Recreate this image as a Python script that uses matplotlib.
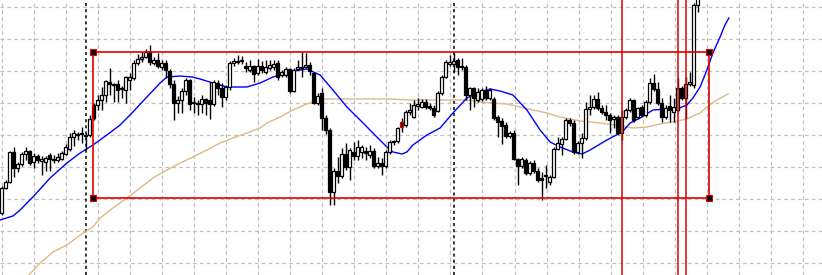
import numpy as np
import matplotlib
matplotlib.use("Agg")
import matplotlib.pyplot as plt

# OHLC per bar (price levels, higher = up)
opens = [62, 87, 93, 123, 107, 111, 121, 124, 113, 119, 114, 113, 120, 116, 115, 116, 121, 126, 138, 140,
         141, 140, 140, 170, 170, 175, 180, 193, 191, 191, 186, 185, 195, 197, 212, 216, 218, 223, 212, 215,
         208, 212, 204, 191, 172, 175, 184, 195, 172, 171, 171, 176, 175, 171, 192, 187, 178, 188, 212, 213,
         214, 209, 205, 209, 202, 209, 203, 207, 208, 212, 200, 200, 206, 184, 206, 207, 208, 210, 202, 172,
         182, 157, 145, 83, 104, 99, 121, 108, 123, 119, 123, 124, 120, 124, 109, 112, 109, 123, 133, 134,
         153, 150, 163, 158, 169, 168, 173, 169, 167, 164, 182, 198, 211, 211, 215, 209, 208, 180, 187, 175,
         176, 185, 177, 176, 158, 154, 150, 139, 142, 116, 109, 115, 102, 112, 104, 97, 99, 93, 98, 126,
         131, 136, 155, 152, 123, 132, 137, 166, 168, 176, 167, 163, 160, 156, 158, 142, 158, 165, 175, 158,
         168, 160, 173, 192, 186, 172, 158, 169, 163, 165, 187, 177, 191, 190, 270]
highs = [89, 95, 124, 128, 113, 123, 128, 125, 122, 121, 119, 119, 122, 120, 122, 124, 131, 142, 145, 143,
         148, 142, 160, 172, 180, 188, 195, 207, 192, 195, 189, 199, 202, 215, 221, 223, 226, 230, 218, 222,
         215, 215, 206, 195, 179, 187, 197, 196, 178, 175, 180, 177, 193, 195, 195, 192, 190, 214, 217, 220,
         219, 213, 215, 210, 216, 214, 215, 215, 215, 215, 205, 208, 207, 207, 215, 223, 222, 213, 203, 182,
         187, 160, 147, 107, 118, 127, 132, 127, 133, 135, 130, 128, 130, 127, 118, 117, 125, 135, 135, 148,
         157, 165, 172, 175, 177, 176, 176, 172, 170, 184, 200, 215, 220, 222, 217, 217, 210, 188, 188, 187,
         187, 189, 187, 178, 160, 157, 153, 144, 145, 117, 118, 117, 114, 115, 107, 103, 110, 100, 128, 138,
         138, 157, 157, 155, 134, 142, 173, 180, 180, 183, 170, 170, 162, 160, 160, 165, 167, 177, 176, 168,
         170, 175, 197, 201, 193, 177, 170, 180, 177, 197, 189, 198, 203, 272, 300]
lows = [60, 86, 92, 98, 103, 109, 115, 110, 107, 112, 100, 104, 104, 112, 113, 115, 120, 124, 129, 135,
        132, 125, 138, 155, 165, 165, 173, 180, 173, 173, 177, 172, 185, 195, 210, 213, 217, 210, 210, 207,
        205, 197, 187, 155, 162, 162, 180, 165, 162, 160, 162, 160, 156, 169, 180, 168, 175, 185, 209, 211,
        211, 203, 203, 193, 200, 202, 201, 205, 205, 195, 198, 198, 182, 183, 205, 198, 207, 200, 171, 170,
        145, 141, 70, 70, 92, 97, 105, 95, 115, 115, 117, 115, 117, 107, 107, 100, 107, 121, 130, 132,
        143, 148, 160, 157, 165, 167, 166, 165, 158, 163, 180, 197, 209, 203, 200, 205, 175, 165, 168, 173,
        174, 175, 175, 155, 138, 131, 137, 137, 115, 90, 107, 100, 100, 102, 93, 75, 87, 90, 97, 125,
        120, 135, 149, 121, 121, 117, 135, 160, 166, 165, 161, 155, 142, 147, 140, 135, 156, 163, 153, 156,
        158, 158, 171, 184, 170, 153, 156, 153, 153, 163, 175, 157, 189, 187, 263]
closes = [87, 93, 123, 107, 111, 121, 124, 112, 119, 115, 116, 117, 116, 115, 118, 122, 128, 138, 142, 141,
          141, 139, 156, 157, 175, 180, 194, 191, 190, 185, 186, 198, 198, 212, 216, 218, 223, 213, 215, 209,
          212, 205, 191, 172, 175, 184, 195, 171, 172, 172, 176, 172, 171, 193, 187, 178, 188, 212, 214, 214,
          214, 207, 209, 201, 209, 205, 208, 210, 211, 198, 203, 206, 184, 205, 208, 208, 210, 204, 172, 179,
          157, 145, 83, 104, 99, 121, 108, 125, 119, 128, 128, 122, 124, 109, 112, 109, 123, 133, 134, 147,
          148, 163, 165, 170, 171, 173, 168, 167, 160, 182, 198, 213, 213, 214, 208, 208, 180, 187, 177, 183,
          185, 177, 185, 157, 153, 149, 139, 142, 116, 109, 116, 102, 112, 104, 95, 95, 99, 98, 126, 132,
          136, 155, 152, 123, 132, 137, 166, 168, 176, 167, 163, 160, 155, 158, 142, 158, 165, 175, 155, 167,
          160, 173, 192, 186, 172, 158, 167, 165, 168, 187, 177, 191, 193, 270, 295]
marked_bar = 100

# moving averages (bar position, level)
fast_ma_x = [-0.4, 2.8, 4.6, 7.8, 12.1, 16.3, 19.6, 22.8, 26.3, 29.6, 32.8, 36.3, 39.6, 41.3, 44.6, 47.6,
             49.6, 52.8, 56.3, 61.3, 64.6, 67.8, 69.6, 72.8, 76.3, 79.6, 82.8, 86.3, 89.6, 92.8, 96.3, 97.8,
             100.1, 101.3, 102.8, 106.3, 109.6, 112.8, 116.3, 119.6, 122.1, 124.6, 127.8, 131.3, 134.6, 137.1,
             139.6, 142.8, 145.1, 147.1, 151.3, 155.1, 157.1, 159.6, 162.8, 166.3, 168.8, 171.3, 172.8, 174.6,
             176.3, 177.8, 179.6, 180.8, 181.8]
fast_ma = [55, 59, 65, 78, 97, 112, 122, 130, 140, 150, 163, 178, 192, 198, 199, 198, 196, 192, 188, 188,
           192, 198, 200, 204, 206, 200, 185, 168, 155, 142, 128, 123, 121, 123, 130, 140, 147, 162, 177, 183,
           186, 184, 180, 165, 145, 133, 128, 123, 121, 125, 135, 143, 152, 157, 165, 166, 166, 170, 177, 188,
           205, 222, 238, 250, 257]
slow_ma_x = [6.8, 9.6, 12.8, 16.3, 19.6, 22.8, 24.6, 27.8, 31.3, 34.6, 37.8, 41.3, 44.6, 47.8, 51.3, 54.6,
             57.8, 61.3, 64.6, 66.3, 69.6, 72.8, 76.3, 79.6, 86.3, 96.3, 102.8, 109.6, 116.3, 119.6, 122.8,
             126.3, 129.6, 132.8, 136.3, 139.6, 144.6, 149.6, 154.6, 157.8, 161.3, 164.6, 167.8, 171.3, 172.8,
             174.6, 176.3, 178.8, 181.6]
slow_ma = [0, 12, 23, 30, 40, 48, 57, 67, 77, 87, 97, 105, 112, 118, 125, 132, 137, 142, 147, 152, 158, 165,
           171, 176, 176, 176, 175, 175, 175, 173, 172, 171, 168, 165, 162, 158, 154, 152, 149, 147, 148, 151,
           153, 156, 159, 162, 168, 175, 181]

# drawn objects
box_bars = [22.8, 176.8]
box_levels = [77.5, 223.5]
period_separators = [21, 113]
red_vlines = [155, 169, 171]

RED = "#dd0000"

fig = plt.figure(figsize=(8.22, 2.75), dpi=100)
ax = fig.add_axes([0, 0, 1, 1])
ax.set_xlim(-0.425, 205.075)
ax.set_ylim(0, 275)

# dashed grid
ax.set_xticks(np.arange(0, 206, 8.0125))
ax.set_yticks(np.arange(12, 275, 32))
ax.grid(True, color="#c0c0c0", linestyle=(0, (3, 2.5)), linewidth=0.9)
ax.tick_params(left=False, bottom=False, labelleft=False, labelbottom=False)
for s in ax.spines.values():
    s.set_visible(False)
ax.set_axisbelow(True)

for xs in period_separators:
    ax.axvline(xs, color="black", linestyle=(0, (2, 2)), linewidth=1.1, zorder=1)

ax.plot(slow_ma_x, slow_ma, color="#deb887", linewidth=1, zorder=2)
ax.plot(fast_ma_x, fast_ma, color="#0000ff", linewidth=1, zorder=2)

# candles
o = np.array(opens, float)
c = np.array(closes, float)
idx = np.arange(len(o))
ax.vlines(idx, lows, highs, color="black", linewidth=1, zorder=3)
up = c >= o
bottoms = np.minimum(o, c)
heights = np.maximum(np.abs(c - o), 0.6)
colors = np.where(up, "white", "black")
edges = ["black"] * len(o)
edges[marked_bar] = RED
ax.bar(idx, heights, bottom=bottoms, width=0.62, color=colors, edgecolor=edges,
       linewidth=0.9, zorder=4)

# rectangle and red lines
x0, x1 = box_bars
y0, y1 = box_levels
ax.plot([x0, x1, x1, x0, x0], [y0, y0, y1, y1, y0], color=RED, linewidth=1.2, zorder=5)
for xv in red_vlines:
    ax.axvline(xv, color=RED, linewidth=1.1, zorder=5)
ax.plot([x0, x0, x1, x1], [y0, y1, y0, y1], linestyle="none", marker="s", markersize=4,
        markerfacecolor="black", markeredgecolor=RED, markeredgewidth=0.8, zorder=6)

fig.savefig("out.png", dpi=100)
